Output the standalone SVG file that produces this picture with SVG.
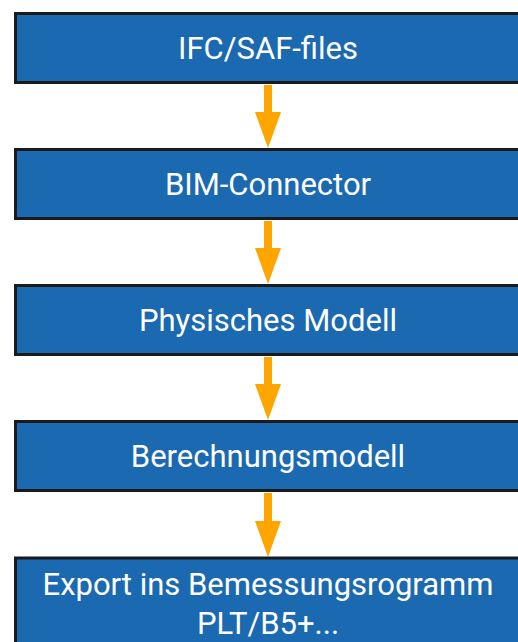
<svg xmlns="http://www.w3.org/2000/svg" width="518" height="642" viewBox="0 0 518 642">
<style>
.box{fill:#1b69b0;stroke:#1a1a1a;stroke-width:3}
.lbl{fill:#ffffff;font-family:Roboto,"Liberation Sans",sans-serif;font-size:31px;text-anchor:middle}
.shaft{fill:#ffa500}
</style>
<rect width="518" height="642" fill="#ffffff"/>
<g id="connectors">
<path class="shaft" d="M264 85H272V112H281L268 148L255 112H264Z"/>
<path class="shaft" d="M264 221H272V248H281L268 284L255 248H264Z"/>
<path class="shaft" d="M264 357H272V384H281L268 420L255 384H264Z"/>
<path class="shaft" d="M264 493H272V521H281L268 557L255 521H264Z"/>
</g>
<g id="n1"><rect class="box" x="15.5" y="13.5" width="508" height="69"/><text class="lbl" x="268" y="59">IFC/SAF-files</text></g>
<g id="n2"><rect class="box" x="15.5" y="149.5" width="508" height="69"/><text class="lbl" x="268" y="195">BIM-Connector</text></g>
<g id="n3"><rect class="box" x="15.5" y="285.5" width="508" height="69"/><text class="lbl" x="268" y="331">Physisches Modell</text></g>
<g id="n4"><rect class="box" x="15.5" y="421.5" width="508" height="69"/><text class="lbl" x="268" y="467">Berechnungsmodell</text></g>
<g id="n5"><rect class="box" x="15.5" y="558" width="508" height="110"/><text class="lbl" x="268" y="595">Export ins Bemessungsrogramm</text><text class="lbl" x="268" y="634">PLT/B5+...</text></g>
</svg>
